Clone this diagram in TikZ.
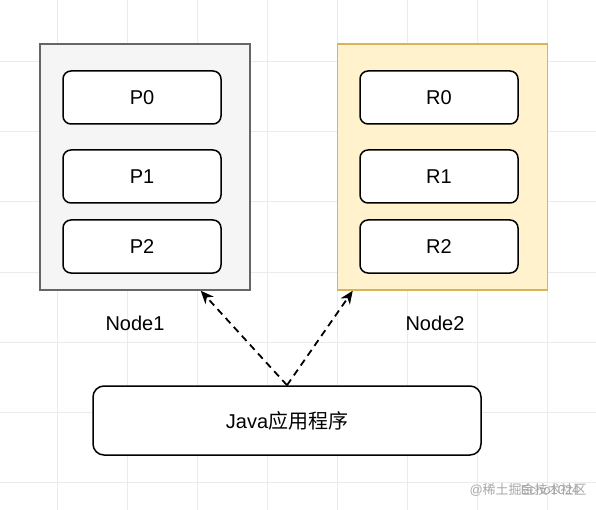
\documentclass[tikz,border=0pt]{standalone}
\usepackage{fontspec}
\setmainfont{Liberation Sans}
\newfontfamily\cjk{Noto Sans CJK SC}
\usetikzlibrary{arrows.meta, positioning}
\definecolor{gridline}{HTML}{EBEBEB}
\definecolor{nodeafill}{HTML}{F5F5F5}
\definecolor{nodeaborder}{HTML}{666666}
\definecolor{nodebfill}{HTML}{FFF2CC}
\definecolor{nodebborder}{HTML}{D6B656}
\definecolor{markgray}{HTML}{A8A8A8}

\begin{document}
\begin{tikzpicture}[
    x=1pt, y=-1pt,
    font=\fontsize{20}{24}\selectfont,
    container/.style={rectangle, minimum width=210pt, minimum height=246pt, line width=1.5pt},
    part/.style={rectangle, rounded corners=8pt, draw=black, fill=white, line width=1.5pt, minimum width=158pt, minimum height=53pt, inner sep=0pt, outer sep=0pt},
    app/.style={rectangle, rounded corners=11pt, draw=black, fill=white, line width=1.5pt, minimum width=388pt, minimum height=69pt},
    dasharrow/.style={-{Stealth[length=13pt, width=11pt, inset=4pt]}, line width=1.8pt, dash pattern=on 7pt off 5pt},
    watermark/.style={text=markgray, font=\fontsize{13}{15}\selectfont}]

    % background grid
    \fill[white] (0,0) rectangle (596,510);
    \useasboundingbox (0,0) rectangle (596,510);
    \foreach \gx in {57,127,...,547} \draw[gridline, line width=1pt] (\gx,0) -- (\gx,510);
    \foreach \gy in {62,132,...,482} \draw[gridline, line width=1pt] (0,\gy) -- (596,\gy);

    % Node1 (left)
    \node[container, draw=nodeaborder, fill=nodeafill] (node1) at (145,167) {};
    \node[part] (p0) at (142,97.5) {P0};
    \node[part, below=26pt of p0] (p1) {P1};
    \node[part, below=17pt of p1] (p2) {P2};
    \node (label1) at (135,323) {Node1};

    % Node2 (right)
    \node[container, draw=nodebborder, fill=nodebfill] (node2) at (442.5,167) {};
    \node[part] (r0) at (439,97.5) {R0};
    \node[part, below=26pt of r0] (r1) {R1};
    \node[part, below=17pt of r1] (r2) {R2};
    \node (label2) at (435,323) {Node2};

    % client
    \node[app] (java) at (287,420.5) {Java{\cjk 应用程序}};
    \draw[dasharrow] (java.north) -- ([xshift=-50pt]node1.south east);
    \draw[dasharrow] (java.north) -- ([xshift=16pt]node2.south west);

    % watermark
    \node[watermark, anchor=west] (mark1) at (466,490) {@{\cjk 稀土掘金技术社区}};
    \node[watermark, anchor=east] (mark2) at (583,490) {Echo1024};
\end{tikzpicture}
\end{document}
